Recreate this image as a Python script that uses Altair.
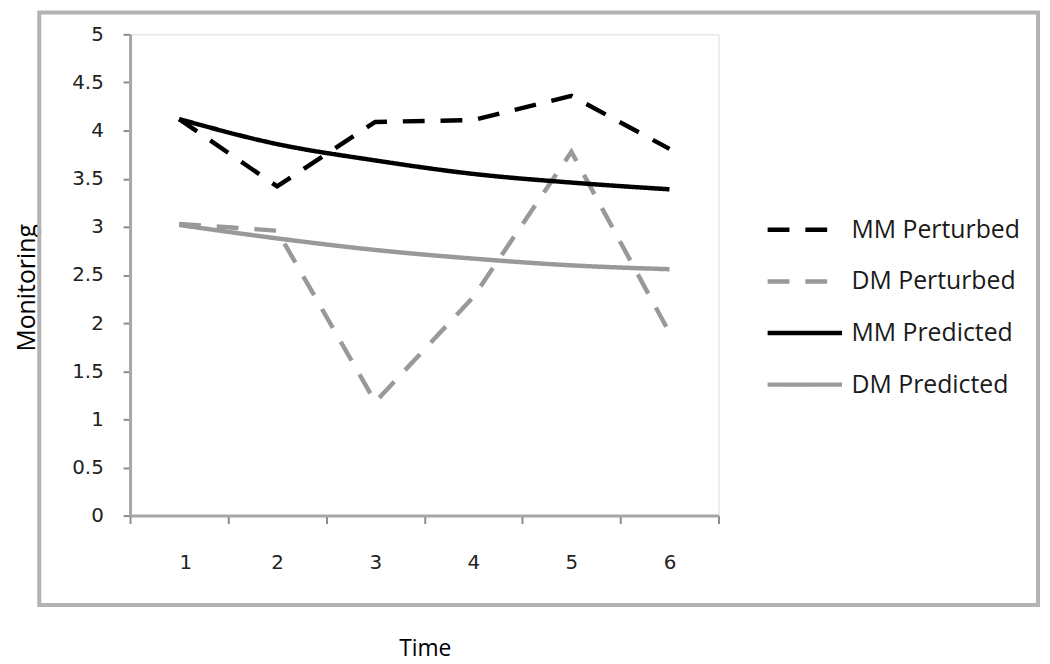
import altair as alt
import pandas as pd

times = [1, 2, 3, 4, 5, 6]
series_names = ["MM Perturbed", "DM Perturbed", "MM Predicted", "DM Predicted"]
mm_perturbed = [4.12, 3.42, 4.09, 4.11, 4.36, 3.81]
dm_perturbed = [3.03, 2.96, 1.18, 2.27, 3.78, 1.90]
mm_predicted = [4.12, 3.86, 3.69, 3.55, 3.46, 3.39]
dm_predicted = [3.02, 2.88, 2.76, 2.67, 2.60, 2.56]

rows = []
for name, vals in zip(series_names, [mm_perturbed, dm_perturbed, mm_predicted, dm_predicted]):
    for t, v in zip(times, vals):
        rows.append({"Time": t, "Monitoring": v, "Series": name})
df = pd.DataFrame(rows)

W, H = 593, 485
GRAY = "#999999"

color = alt.Color(
    "Series:N",
    scale=alt.Scale(domain=series_names, range=["#000000", GRAY, "#000000", GRAY]),
    legend=alt.Legend(
        title=None,
        orient="none",
        legendX=665,
        legendY=182,
        symbolType="M-3,0H3",
        symbolSize=625,
        symbolStrokeWidth=4.5,
        labelOffset=32,
        rowPadding=24,
        labelFont="Open Sans",
        labelFontSize=25,
        labelColor="#1a1a1a",
        labelLimit=400,
    ),
    sort=series_names,
)
dash = alt.StrokeDash(
    "Series:N",
    scale=alt.Scale(domain=series_names, range=[[22, 16], [22, 16], [1, 0], [1, 0]]),
    legend=None,
    sort=series_names,
)

x_enc = alt.X(
    "Time:Q",
    scale=alt.Scale(domain=[0.5, 6.5], nice=False, zero=False),
    axis=alt.Axis(
        values=[0.5, 1.5, 2.5, 3.5, 4.5, 5.5, 6.5],
        labelExpr="datum.value < 6 ? toString(datum.value + 0.5) : ''",
        labelOffset=W / 12,
        grid=False,
        domainColor="#a6a6a6",
        domainWidth=3,
        tickColor="#8c8c8c",
        tickWidth=2,
        tickSize=8,
        labelPadding=29,
        labelFont="DejaVu Sans",
        labelFontSize=20,
        labelColor="#222222",
        title="Time",
        titleFont="Open Sans",
        titleFontSize=23,
        titleFontWeight="normal",
        titleColor="#000000",
        titleX=297,
        titleY=134,
        titleBaseline="middle",
        titleAlign="center",
    ),
)
y_enc = alt.Y(
    "Monitoring:Q",
    scale=alt.Scale(domain=[0, 5], nice=False),
    axis=alt.Axis(
        values=[0, 0.5, 1, 1.5, 2, 2.5, 3, 3.5, 4, 4.5, 5],
        labelExpr="toString(datum.value)",
        grid=False,
        domainColor="#a6a6a6",
        domainWidth=3,
        tickColor="#8c8c8c",
        tickWidth=2,
        tickSize=7,
        labelPadding=20,
        labelFont="DejaVu Sans",
        labelFontSize=20,
        labelColor="#222222",
        title="Monitoring",
        titleFont="Open Sans",
        titleFontSize=25,
        titleFontWeight="normal",
        titleColor="#000000",
        titleX=-104,
        titleY=255,
        titleAngle=-90,
        titleBaseline="middle",
        titleAlign="center",
    ),
)

frame = alt.Chart(pd.DataFrame({"a": [0]})).mark_rect(
    fill="transparent", stroke="#b3b3b3", strokeWidth=4
).encode(
    x=alt.value(-91.5), x2=alt.value(915), y=alt.value(-22), y2=alt.value(575)
)

perturbed = alt.Chart(df).transform_filter(
    alt.FieldOneOfPredicate(field="Series", oneOf=["MM Perturbed", "DM Perturbed"])
).mark_line(strokeWidth=4.5).encode(
    x=x_enc, y=y_enc, color=color, strokeDash=dash, order="Time:Q"
)
predicted = alt.Chart(df).transform_filter(
    alt.FieldOneOfPredicate(field="Series", oneOf=["MM Predicted", "DM Predicted"])
).mark_line(strokeWidth=4.5, interpolate="monotone").encode(
    x=x_enc, y=y_enc, color=color, strokeDash=dash, order="Time:Q"
)

chart = alt.layer(frame, perturbed, predicted).properties(
    width=W,
    height=H,
    autosize=alt.AutoSizeParams(type="none"),
    padding={"left": 123, "top": 24, "right": 326, "bottom": 147},
).configure_view(strokeWidth=0).configure(background="white")

chart.save("out.html", embed_options={"renderer": "svg", "actions": False})
